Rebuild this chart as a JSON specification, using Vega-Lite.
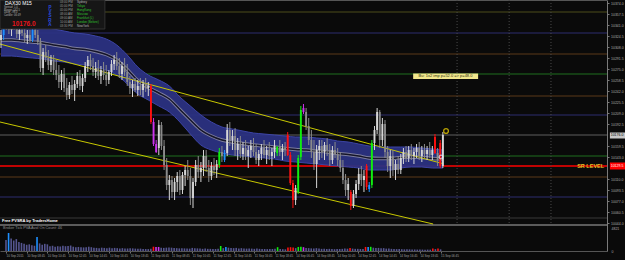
{
"$schema":"https://vega.github.io/schema/vega-lite/v6.json",
"width":607,"height":251,
"autosize":{"type":"none"},
"padding":{"left":0,"top":0,"right":18,"bottom":9},
"background":"#0a0a0a",
"config":{"view":{"stroke":null},"text":{"font":"Liberation Sans"}},
"datasets":{
"one":[{}],
"candles":[
{"i":0,"o":10318.5,"h":10333.5,"l":10306.5,"c":10326,"k":"u","v":2300},
{"i":1,"o":10326,"h":10351.5,"l":10318.5,"c":10345.5,"k":"B","v":3780},
{"i":2,"o":10345.5,"h":10356,"l":10333.5,"c":10339.5,"k":"d","v":2600},
{"i":3,"o":10339.5,"h":10348.5,"l":10327.5,"c":10333.5,"k":"d","v":2200},
{"i":4,"o":10333.5,"h":10345.5,"l":10324.5,"c":10341,"k":"u","v":2500},
{"i":5,"o":10341,"h":10351.5,"l":10333.5,"c":10336.5,"k":"d","v":1900},
{"i":6,"o":10336.5,"h":10348.5,"l":10321.5,"c":10327.5,"k":"d","v":1700},
{"i":7,"o":10327.5,"h":10339.5,"l":10318.5,"c":10333.5,"k":"u","v":1500},
{"i":8,"o":10333.5,"h":10342.5,"l":10324.5,"c":10329,"k":"d","v":1300},
{"i":9,"o":10329,"h":10336.5,"l":10315.5,"c":10321.5,"k":"d","v":1400},
{"i":10,"o":10321.5,"h":10333.5,"l":10312.5,"c":10326,"k":"u","v":1200},
{"i":11,"o":10326,"h":10333.5,"l":10315.5,"c":10318.5,"k":"d","v":1100},
{"i":12,"o":10318.5,"h":10336.5,"l":10315.5,"c":10333.5,"k":"B","v":2950},
{"i":13,"o":10333.5,"h":10341,"l":10321.5,"c":10326,"k":"d","v":1600},
{"i":14,"o":10326,"h":10333.5,"l":10311,"c":10315.5,"k":"d","v":1300},
{"i":15,"o":10315.5,"h":10321.5,"l":10270.5,"c":10276.5,"k":"d","v":1500},
{"i":16,"o":10276.5,"h":10306.5,"l":10266,"c":10300.5,"k":"u","v":1400},
{"i":17,"o":10300.5,"h":10311,"l":10285.5,"c":10291.5,"k":"d","v":1000},
{"i":18,"o":10291.5,"h":10303.5,"l":10273.5,"c":10281,"k":"d","v":1100},
{"i":19,"o":10281,"h":10296,"l":10270.5,"c":10288.5,"k":"u","v":900},
{"i":20,"o":10288.5,"h":10296,"l":10266,"c":10273.5,"k":"d","v":1000},
{"i":21,"o":10273.5,"h":10288.5,"l":10258.5,"c":10266,"k":"d","v":950},
{"i":22,"o":10266,"h":10281,"l":10246.5,"c":10255.5,"k":"d","v":1100},
{"i":23,"o":10255.5,"h":10273.5,"l":10243.5,"c":10267.5,"k":"u","v":1000},
{"i":24,"o":10267.5,"h":10276.5,"l":10240.5,"c":10246.5,"k":"d","v":1050},
{"i":25,"o":10246.5,"h":10261.5,"l":10228.5,"c":10236,"k":"d","v":1150},
{"i":26,"o":10236,"h":10255.5,"l":10230,"c":10251,"k":"u","v":900},
{"i":27,"o":10251,"h":10264.5,"l":10237.5,"c":10243.5,"k":"d","v":800},
{"i":28,"o":10243.5,"h":10258.5,"l":10227,"c":10252.5,"k":"u","v":850},
{"i":29,"o":10252.5,"h":10270.5,"l":10246.5,"c":10264.5,"k":"u","v":800},
{"i":30,"o":10264.5,"h":10273.5,"l":10243.5,"c":10249.5,"k":"d","v":750},
{"i":31,"o":10249.5,"h":10267.5,"l":10240.5,"c":10261.5,"k":"u","v":800},
{"i":32,"o":10261.5,"h":10285.5,"l":10255.5,"c":10279.5,"k":"u","v":900},
{"i":33,"o":10279.5,"h":10294.5,"l":10270.5,"c":10288.5,"k":"u","v":800},
{"i":34,"o":10288.5,"h":10297.5,"l":10273.5,"c":10279.5,"k":"d","v":700},
{"i":35,"o":10279.5,"h":10291.5,"l":10264.5,"c":10270.5,"k":"d","v":650},
{"i":36,"o":10270.5,"h":10285.5,"l":10261.5,"c":10276.5,"k":"u","v":600},
{"i":37,"o":10276.5,"h":10288.5,"l":10258.5,"c":10264.5,"k":"d","v":700},
{"i":38,"o":10264.5,"h":10279.5,"l":10252.5,"c":10273.5,"k":"u","v":650},
{"i":39,"o":10273.5,"h":10285.5,"l":10258.5,"c":10266,"k":"d","v":600},
{"i":40,"o":10266,"h":10281,"l":10249.5,"c":10258.5,"k":"d","v":700},
{"i":41,"o":10258.5,"h":10273.5,"l":10252.5,"c":10270.5,"k":"u","v":600},
{"i":42,"o":10270.5,"h":10288.5,"l":10264.5,"c":10282.5,"k":"u","v":650},
{"i":43,"o":10282.5,"h":10296,"l":10273.5,"c":10288.5,"k":"u","v":600},
{"i":44,"o":10288.5,"h":10300.5,"l":10273.5,"c":10279.5,"k":"d","v":550},
{"i":45,"o":10279.5,"h":10291.5,"l":10261.5,"c":10267.5,"k":"d","v":600},
{"i":46,"o":10267.5,"h":10285.5,"l":10258.5,"c":10279.5,"k":"u","v":550},
{"i":47,"o":10279.5,"h":10291.5,"l":10264.5,"c":10270.5,"k":"d","v":500},
{"i":48,"o":10270.5,"h":10282.5,"l":10249.5,"c":10255.5,"k":"d","v":600},
{"i":49,"o":10255.5,"h":10264.5,"l":10237.5,"c":10246.5,"k":"d","v":550},
{"i":50,"o":10246.5,"h":10258.5,"l":10233,"c":10252.5,"k":"u","v":500},
{"i":51,"o":10252.5,"h":10261.5,"l":10240.5,"c":10243.5,"k":"d","v":450},
{"i":52,"o":10243.5,"h":10258.5,"l":10234.5,"c":10249.5,"k":"u","v":500},
{"i":53,"o":10249.5,"h":10261.5,"l":10236,"c":10243.5,"k":"d","v":400},
{"i":54,"o":10243.5,"h":10258.5,"l":10233,"c":10252.5,"k":"u","v":420},
{"i":55,"o":10252.5,"h":10261.5,"l":10240.5,"c":10246.5,"k":"d","v":400},
{"i":56,"o":10246.5,"h":10255.5,"l":10234.5,"c":10249.5,"k":"u","v":450},
{"i":57,"o":10249.5,"h":10252.5,"l":10192.5,"c":10195.5,"k":"R","v":900},
{"i":58,"o":10195.5,"h":10201.5,"l":10159.5,"c":10162.5,"k":"M","v":850},
{"i":59,"o":10162.5,"h":10168.5,"l":10149,"c":10150.5,"k":"M","v":850},
{"i":60,"o":10156.5,"h":10198.5,"l":10146,"c":10191,"k":"u","v":700},
{"i":61,"o":10191,"h":10195.5,"l":10153.5,"c":10159.5,"k":"d","v":650},
{"i":62,"o":10159.5,"h":10168.5,"l":10123.5,"c":10131,"k":"d","v":700},
{"i":63,"o":10131,"h":10141.5,"l":10093.5,"c":10101,"k":"d","v":750},
{"i":64,"o":10101,"h":10116,"l":10078.5,"c":10108.5,"k":"u","v":700},
{"i":65,"o":10108.5,"h":10114.5,"l":10081.5,"c":10090.5,"k":"d","v":650},
{"i":66,"o":10090.5,"h":10111.5,"l":10078.5,"c":10105.5,"k":"u","v":600},
{"i":67,"o":10105.5,"h":10120.5,"l":10090.5,"c":10114.5,"k":"u","v":550},
{"i":68,"o":10114.5,"h":10123.5,"l":10086,"c":10093.5,"k":"d","v":600},
{"i":69,"o":10093.5,"h":10120.5,"l":10087.5,"c":10116,"k":"u","v":550},
{"i":70,"o":10116,"h":10129.5,"l":10099.5,"c":10123.5,"k":"u","v":500},
{"i":71,"o":10123.5,"h":10138.5,"l":10108.5,"c":10114.5,"k":"d","v":500},
{"i":72,"o":10114.5,"h":10126.5,"l":10071,"c":10081.5,"k":"d","v":650},
{"i":73,"o":10081.5,"h":10111.5,"l":10066.5,"c":10105.5,"k":"u","v":600},
{"i":74,"o":10105.5,"h":10138.5,"l":10099.5,"c":10131,"k":"u","v":550},
{"i":75,"o":10131,"h":10144.5,"l":10111.5,"c":10120.5,"k":"d","v":500},
{"i":76,"o":10120.5,"h":10135.5,"l":10105.5,"c":10126.5,"k":"u","v":450},
{"i":77,"o":10126.5,"h":10153.5,"l":10114.5,"c":10144.5,"k":"u","v":500},
{"i":78,"o":10144.5,"h":10153.5,"l":10120.5,"c":10126.5,"k":"d","v":450},
{"i":79,"o":10126.5,"h":10138.5,"l":10105.5,"c":10114.5,"k":"d","v":450},
{"i":80,"o":10114.5,"h":10135.5,"l":10108.5,"c":10129.5,"k":"u","v":420},
{"i":81,"o":10129.5,"h":10141.5,"l":10116,"c":10123.5,"k":"d","v":420},
{"i":82,"o":10123.5,"h":10138.5,"l":10111.5,"c":10132.5,"k":"u","v":450},
{"i":83,"o":10131,"h":10156.5,"l":10126.5,"c":10150.5,"k":"G","v":1050},
{"i":84,"o":10150.5,"h":10159.5,"l":10135.5,"c":10144.5,"k":"d","v":600},
{"i":85,"o":10138.5,"h":10153.5,"l":10135.5,"c":10149,"k":"B","v":850},
{"i":86,"o":10149,"h":10192.5,"l":10144.5,"c":10183.5,"k":"u","v":700},
{"i":87,"o":10183.5,"h":10195.5,"l":10159.5,"c":10168.5,"k":"d","v":650},
{"i":88,"o":10168.5,"h":10183.5,"l":10153.5,"c":10174.5,"k":"u","v":600},
{"i":89,"o":10174.5,"h":10186.5,"l":10144.5,"c":10153.5,"k":"d","v":650},
{"i":90,"o":10153.5,"h":10171.5,"l":10138.5,"c":10162.5,"k":"u","v":550},
{"i":91,"o":10162.5,"h":10174.5,"l":10141.5,"c":10147.5,"k":"d","v":600},
{"i":92,"o":10147.5,"h":10165.5,"l":10138.5,"c":10156.5,"k":"u","v":550},
{"i":93,"o":10156.5,"h":10168.5,"l":10138.5,"c":10144.5,"k":"d","v":500},
{"i":94,"o":10144.5,"h":10159.5,"l":10126.5,"c":10153.5,"k":"u","v":550},
{"i":95,"o":10153.5,"h":10168.5,"l":10141.5,"c":10159.5,"k":"u","v":500},
{"i":96,"o":10159.5,"h":10171.5,"l":10144.5,"c":10150.5,"k":"d","v":450},
{"i":97,"o":10150.5,"h":10162.5,"l":10132.5,"c":10138.5,"k":"d","v":500},
{"i":98,"o":10138.5,"h":10153.5,"l":10129.5,"c":10147.5,"k":"u","v":450},
{"i":99,"o":10147.5,"h":10162.5,"l":10138.5,"c":10156.5,"k":"u","v":420},
{"i":100,"o":10156.5,"h":10168.5,"l":10141.5,"c":10146,"k":"d","v":420},
{"i":101,"o":10146,"h":10159.5,"l":10132.5,"c":10153.5,"k":"u","v":400},
{"i":102,"o":10153.5,"h":10165.5,"l":10138.5,"c":10144.5,"k":"d","v":400},
{"i":103,"o":10144.5,"h":10156.5,"l":10129.5,"c":10150.5,"k":"u","v":420},
{"i":104,"o":10150.5,"h":10168.5,"l":10141.5,"c":10159.5,"k":"u","v":450},
{"i":105,"o":10149,"h":10159.5,"l":10144.5,"c":10158,"k":"G","v":800},
{"i":106,"o":10158,"h":10168.5,"l":10144.5,"c":10150.5,"k":"d","v":400},
{"i":107,"o":10150.5,"h":10162.5,"l":10138.5,"c":10156.5,"k":"u","v":380},
{"i":108,"o":10156.5,"h":10165.5,"l":10144.5,"c":10153.5,"k":"d","v":350},
{"i":109,"o":10176,"h":10180.5,"l":10144.5,"c":10146,"k":"R","v":750},
{"i":110,"o":10146,"h":10150.5,"l":10101,"c":10104,"k":"R","v":800},
{"i":111,"o":10104,"h":10108.5,"l":10066.5,"c":10078.5,"k":"R","v":750},
{"i":112,"o":10078.5,"h":10101,"l":10071,"c":10096.5,"k":"u","v":600},
{"i":113,"o":10090.5,"h":10146,"l":10087.5,"c":10141.5,"k":"G","v":850},
{"i":114,"o":10143,"h":10219.5,"l":10138.5,"c":10213.5,"k":"G","v":900},
{"i":115,"o":10216.5,"h":10222.5,"l":10207.5,"c":10210.5,"k":"M","v":800},
{"i":116,"o":10210.5,"h":10216.5,"l":10183.5,"c":10189.5,"k":"d","v":650},
{"i":117,"o":10189.5,"h":10201.5,"l":10161,"c":10168.5,"k":"d","v":600},
{"i":118,"o":10168.5,"h":10183.5,"l":10141.5,"c":10150.5,"k":"d","v":550},
{"i":119,"o":10150.5,"h":10168.5,"l":10123.5,"c":10132.5,"k":"d","v":550},
{"i":120,"o":10132.5,"h":10161,"l":10096.5,"c":10153.5,"k":"u","v":600},
{"i":121,"o":10153.5,"h":10168.5,"l":10138.5,"c":10159.5,"k":"u","v":500},
{"i":122,"o":10159.5,"h":10168.5,"l":10141.5,"c":10150.5,"k":"d","v":450},
{"i":123,"o":10150.5,"h":10165.5,"l":10138.5,"c":10161,"k":"u","v":450},
{"i":124,"o":10161,"h":10171.5,"l":10144.5,"c":10153.5,"k":"d","v":420},
{"i":125,"o":10153.5,"h":10162.5,"l":10129.5,"c":10138.5,"k":"d","v":450},
{"i":126,"o":10138.5,"h":10159.5,"l":10132.5,"c":10153.5,"k":"u","v":420},
{"i":127,"o":10153.5,"h":10165.5,"l":10141.5,"c":10147.5,"k":"d","v":380},
{"i":128,"o":10147.5,"h":10156.5,"l":10129.5,"c":10138.5,"k":"d","v":400},
{"i":129,"o":10138.5,"h":10150.5,"l":10120.5,"c":10126.5,"k":"d","v":420},
{"i":130,"o":10126.5,"h":10138.5,"l":10102.5,"c":10108.5,"k":"d","v":450},
{"i":131,"o":10108.5,"h":10117.5,"l":10084.5,"c":10093.5,"k":"d","v":500},
{"i":132,"o":10093.5,"h":10111.5,"l":10078.5,"c":10102.5,"k":"u","v":480},
{"i":133,"o":10090.5,"h":10093.5,"l":10063.5,"c":10069.5,"k":"R","v":650},
{"i":134,"o":10069.5,"h":10093.5,"l":10066.5,"c":10087.5,"k":"u","v":500},
{"i":135,"o":10087.5,"h":10108.5,"l":10081.5,"c":10102.5,"k":"u","v":450},
{"i":136,"o":10102.5,"h":10126.5,"l":10093.5,"c":10117.5,"k":"u","v":450},
{"i":137,"o":10117.5,"h":10129.5,"l":10099.5,"c":10108.5,"k":"d","v":420},
{"i":138,"o":10108.5,"h":10123.5,"l":10090.5,"c":10114.5,"k":"u","v":420},
{"i":139,"o":10129.5,"h":10132.5,"l":10093.5,"c":10098,"k":"R","v":850},
{"i":140,"o":10095,"h":10105.5,"l":10090.5,"c":10101,"k":"B","v":850},
{"i":141,"o":10101,"h":10168.5,"l":10096.5,"c":10164,"k":"G","v":880},
{"i":142,"o":10164,"h":10189.5,"l":10153.5,"c":10183.5,"k":"u","v":700},
{"i":143,"o":10183.5,"h":10216.5,"l":10177.5,"c":10210.5,"k":"u","v":650},
{"i":144,"o":10210.5,"h":10213.5,"l":10156.5,"c":10168.5,"k":"d","v":650},
{"i":145,"o":10168.5,"h":10201.5,"l":10159.5,"c":10192.5,"k":"u","v":600},
{"i":146,"o":10192.5,"h":10198.5,"l":10141.5,"c":10150.5,"k":"d","v":600},
{"i":147,"o":10150.5,"h":10159.5,"l":10120.5,"c":10129.5,"k":"d","v":500},
{"i":148,"o":10129.5,"h":10153.5,"l":10111.5,"c":10144.5,"k":"u","v":500},
{"i":149,"o":10144.5,"h":10153.5,"l":10114.5,"c":10123.5,"k":"d","v":450},
{"i":150,"o":10123.5,"h":10138.5,"l":10108.5,"c":10132.5,"k":"u","v":420},
{"i":151,"o":10132.5,"h":10144.5,"l":10117.5,"c":10123.5,"k":"d","v":400},
{"i":152,"o":10123.5,"h":10147.5,"l":10117.5,"c":10141.5,"k":"u","v":420},
{"i":153,"o":10141.5,"h":10156.5,"l":10132.5,"c":10150.5,"k":"u","v":380},
{"i":154,"o":10150.5,"h":10159.5,"l":10135.5,"c":10141.5,"k":"d","v":350},
{"i":155,"o":10141.5,"h":10159.5,"l":10135.5,"c":10153.5,"k":"u","v":380},
{"i":156,"o":10153.5,"h":10162.5,"l":10138.5,"c":10144.5,"k":"d","v":350},
{"i":157,"o":10144.5,"h":10156.5,"l":10132.5,"c":10150.5,"k":"u","v":330},
{"i":158,"o":10150.5,"h":10162.5,"l":10141.5,"c":10156.5,"k":"u","v":320},
{"i":159,"o":10156.5,"h":10165.5,"l":10138.5,"c":10144.5,"k":"d","v":300},
{"i":160,"o":10144.5,"h":10159.5,"l":10135.5,"c":10153.5,"k":"u","v":320},
{"i":161,"o":10153.5,"h":10162.5,"l":10141.5,"c":10147.5,"k":"d","v":300},
{"i":162,"o":10147.5,"h":10159.5,"l":10138.5,"c":10153.5,"k":"u","v":280},
{"i":163,"o":10153.5,"h":10165.5,"l":10141.5,"c":10146,"k":"d","v":300},
{"i":164,"o":10146,"h":10159.5,"l":10138.5,"c":10153.5,"k":"u","v":280},
{"i":165,"o":10173,"h":10177.5,"l":10147.5,"c":10149,"k":"R","v":550},
{"i":166,"o":10149,"h":10156.5,"l":10129.5,"c":10138.5,"k":"d","v":400},
{"i":167,"o":10164,"h":10168.5,"l":10126.5,"c":10129.5,"k":"R","v":500},
{"i":168,"o":10129.5,"h":10180.5,"l":10126.5,"c":10176,"k":"u","v":350}
],
"band":[
{"i":0,"bu":10342.5,"bl":10294.5,"m":10318.5},
{"i":4,"bu":10342.5,"bl":10294.5,"m":10318.5},
{"i":8,"bu":10341,"bl":10293,"m":10317},
{"i":12,"bu":10339.5,"bl":10291.5,"m":10315.5},
{"i":16,"bu":10338,"bl":10290,"m":10314},
{"i":20,"bu":10335,"bl":10287,"m":10311},
{"i":24,"bu":10332,"bl":10285.5,"m":10308.75},
{"i":28,"bu":10329,"bl":10282.5,"m":10305.75},
{"i":32,"bu":10327.5,"bl":10281,"m":10304.25},
{"i":36,"bu":10324.5,"bl":10278,"m":10301.25},
{"i":40,"bu":10320,"bl":10273.5,"m":10296.75},
{"i":44,"bu":10311,"bl":10266,"m":10288.5},
{"i":48,"bu":10296,"bl":10252.5,"m":10274.25},
{"i":52,"bu":10278,"bl":10237.5,"m":10257.75},
{"i":56,"bu":10266,"bl":10228.5,"m":10247.25},
{"i":60,"bu":10258.5,"bl":10219.5,"m":10239},
{"i":64,"bu":10249.5,"bl":10210.5,"m":10230},
{"i":68,"bu":10233,"bl":10195.5,"m":10214.25},
{"i":72,"bu":10219.5,"bl":10177.5,"m":10198.5},
{"i":76,"bu":10206,"bl":10161,"m":10183.5},
{"i":80,"bu":10195.5,"bl":10153.5,"m":10174.5},
{"i":84,"bu":10188,"bl":10149,"m":10168.5},
{"i":88,"bu":10185,"bl":10146,"m":10165.5},
{"i":92,"bu":10182,"bl":10144.5,"m":10163.25},
{"i":96,"bu":10179,"bl":10143,"m":10161},
{"i":100,"bu":10177.5,"bl":10141.5,"m":10159.5},
{"i":104,"bu":10176,"bl":10140,"m":10158},
{"i":108,"bu":10174.5,"bl":10137,"m":10155.75},
{"i":112,"bu":10173,"bl":10135.5,"m":10154.25},
{"i":116,"bu":10173,"bl":10134,"m":10153.5},
{"i":120,"bu":10171.5,"bl":10132.5,"m":10152},
{"i":124,"bu":10170,"bl":10131,"m":10150.5},
{"i":128,"bu":10167,"bl":10129.5,"m":10148.25},
{"i":132,"bu":10165.5,"bl":10128,"m":10146.75},
{"i":136,"bu":10162.5,"bl":10126.5,"m":10144.5},
{"i":140,"bu":10159.5,"bl":10123.5,"m":10141.5},
{"i":144,"bu":10158,"bl":10123.5,"m":10140.75},
{"i":148,"bu":10158,"bl":10123.5,"m":10140.75},
{"i":152,"bu":10158,"bl":10126.5,"m":10142.25},
{"i":156,"bu":10158,"bl":10128,"m":10143},
{"i":160,"bu":10156.5,"bl":10128,"m":10142.25},
{"i":164,"bu":10155,"bl":10126.5,"m":10140.75},
{"i":168,"bu":10153.5,"bl":10126.5,"m":10140}
],
"trend":[
{"line":"a","i":-0.38,"p":10312.5},{"line":"a","i":168,"p":10133},
{"line":"b","i":-0.38,"p":10195.5},{"line":"b","i":164.3,"p":10042.5}
],
"levels":[
{"p":10360.5,"t":"Y"},{"p":10329,"t":"W"},{"p":10297.5,"t":"D"},{"p":10267.5,"t":"M"},
{"p":10234.5,"t":"D"},{"p":10206,"t":"W"},{"p":10176,"t":"Bid"},{"p":10144.5,"t":"M"},
{"p":10113,"t":"D"},{"p":10083,"t":"W"},{"p":10051.5,"t":"Q"}
],
"seps":[{"i":173.4},{"i":193.2},{"i":209.1}]
},
"layer":[
{"data":{"name":"levels"},"mark":{"type":"rule","strokeWidth":1},
 "encoding":{"y":{"field":"p","type":"quantitative","scale":{"domain":[10002,10378.5],"nice":false,"zero":false},
   "axis":{"orient":"right","values":[10374,10357.5,10341,10324.5,10308,10291.5,10275,10258.5,10242,10225.5,10209,10192.5,10159.5,10143,10110,10093.5,10077,10060.5,10044],
   "format":".1f","title":null,"grid":false,"labelFont":"Liberation Sans","labelFontSize":3.5,"labelColor":"#a8a8a8","tickSize":2,"tickColor":"#7a7a7a","domainColor":"#7a7a7a","labelPadding":1.5}},
  "color":{"field":"t","type":"nominal","legend":null,"scale":{"domain":["Y","W","D","M","Bid","Q"],"range":["#4d4d1a","#2c2c6e","#5a3818","#1f6e1f","#5e5e5e","#383838"]}}}},
{"data":{"name":"one"},"mark":{"type":"rule","color":"#ff0000","strokeWidth":1.3},
 "encoding":{"y":{"datum":10129.5,"type":"quantitative","scale":{"domain":[10002,10378.5],"nice":false,"zero":false},"axis":null}}},
{"data":{"name":"one"},"mark":{"type":"rule","color":"#5a5a5a","strokeWidth":1},
 "encoding":{"y":{"datum":10377.8,"type":"quantitative","scale":{"domain":[10002,10378.5],"nice":false,"zero":false},"axis":null}}},
{"data":{"name":"one"},"mark":{"type":"rule","color":"#777777","strokeWidth":1.6},
 "encoding":{"y":{"datum":10041,"type":"quantitative","scale":{"domain":[10002,10378.5],"nice":false,"zero":false},"axis":null}}},
{"data":{"name":"seps"},"mark":{"type":"rule","color":"#4a4a4a","strokeWidth":1,"strokeDash":[1,2]},
 "encoding":{"x":{"field":"i","type":"quantitative","scale":{"domain":[-0.38,230.4],"nice":false,"zero":false},"axis":null},
  "y":{"datum":10378.5,"type":"quantitative","scale":{"domain":[10002,10378.5],"nice":false,"zero":false},"axis":null},"y2":{"datum":10041}}},
{"data":{"name":"band"},"mark":{"type":"area","color":"#2b3182","interpolate":"monotone","opacity":0.95},
 "encoding":{"x":{"field":"i","type":"quantitative","scale":{"domain":[-0.38,230.4],"nice":false,"zero":false},"axis":null},
  "y":{"field":"bu","type":"quantitative","scale":{"domain":[10002,10378.5],"nice":false,"zero":false},"axis":null},"y2":{"field":"bl"}}},
{"data":{"name":"band"},"mark":{"type":"line","color":"#3c44a6","strokeWidth":1,"interpolate":"monotone"},
 "encoding":{"x":{"field":"i","type":"quantitative","scale":{"domain":[-0.38,230.4],"nice":false,"zero":false},"axis":null},
  "y":{"field":"bu","type":"quantitative","scale":{"domain":[10002,10378.5],"nice":false,"zero":false},"axis":null}}},
{"data":{"name":"band"},"mark":{"type":"line","color":"#3c44a6","strokeWidth":1,"interpolate":"monotone"},
 "encoding":{"x":{"field":"i","type":"quantitative","scale":{"domain":[-0.38,230.4],"nice":false,"zero":false},"axis":null},
  "y":{"field":"bl","type":"quantitative","scale":{"domain":[10002,10378.5],"nice":false,"zero":false},"axis":null}}},
{"data":{"name":"band"},"mark":{"type":"line","color":"#7c7c9c","strokeWidth":3.4,"interpolate":"monotone"},
 "encoding":{"x":{"field":"i","type":"quantitative","scale":{"domain":[-0.38,230.4],"nice":false,"zero":false},"axis":null},
  "y":{"field":"m","type":"quantitative","scale":{"domain":[10002,10378.5],"nice":false,"zero":false},"axis":null}}},
{"data":{"name":"band"},"mark":{"type":"line","color":"#15152a","strokeWidth":1.5,"interpolate":"monotone"},
 "encoding":{"x":{"field":"i","type":"quantitative","scale":{"domain":[-0.38,230.4],"nice":false,"zero":false},"axis":null},
  "y":{"field":"m","type":"quantitative","scale":{"domain":[10002,10378.5],"nice":false,"zero":false},"axis":null}}},
{"data":{"name":"trend"},"mark":{"type":"line","color":"#c8c800","strokeWidth":1},
 "encoding":{"x":{"field":"i","type":"quantitative","scale":{"domain":[-0.38,230.4],"nice":false,"zero":false},"axis":null},
  "y":{"field":"p","type":"quantitative","scale":{"domain":[10002,10378.5],"nice":false,"zero":false},"axis":null},"detail":{"field":"line"}}},
{"data":{"name":"candles"},"mark":{"type":"rule","strokeWidth":1},
 "encoding":{"x":{"field":"i","type":"quantitative","scale":{"domain":[-0.38,230.4],"nice":false,"zero":false},"axis":null},
  "y":{"field":"l","type":"quantitative","scale":{"domain":[10002,10378.5],"nice":false,"zero":false},"axis":null},"y2":{"field":"h"},
  "color":{"field":"k","type":"nominal","legend":null,"scale":{"domain":["u","d","R","G","B","M"],"range":["#d6d6d6","#8a8a8a","#ff1010","#10ee10","#1e90ff","#cc33ee"]}}}},
{"data":{"name":"candles"},"mark":{"type":"rule","strokeWidth":1.9,"strokeCap":"butt"},
 "encoding":{"x":{"field":"i","type":"quantitative","scale":{"domain":[-0.38,230.4],"nice":false,"zero":false},"axis":null},
  "y":{"field":"o","type":"quantitative","scale":{"domain":[10002,10378.5],"nice":false,"zero":false},"axis":null},"y2":{"field":"c"},
  "color":{"field":"k","type":"nominal","legend":null,"scale":{"domain":["u","d","R","G","B","M"],"range":["#d6d6d6","#8a8a8a","#ff1010","#10ee10","#1e90ff","#cc33ee"]}}}},
{"data":{"name":"candles"},"mark":{"type":"bar","size":1.6},
 "encoding":{"x":{"field":"i","type":"quantitative","scale":{"domain":[-0.38,230.4],"nice":false,"zero":false},
   "axis":{"orient":"bottom","values":[0,8,16,24,32,40,48,56,64,72,80,88,96,104,112,120,128,136,144,152,160,168],
   "labelExpr":"['10 Sep 2015','10 Sep 08:45','10 Sep 10:45','10 Sep 12:45','10 Sep 14:45','10 Sep 16:45','10 Sep 18:45','11 Sep 06:45','11 Sep 08:45','11 Sep 10:45','11 Sep 12:45','11 Sep 14:45','11 Sep 16:45','11 Sep 18:45','14 Sep 06:45','14 Sep 08:45','14 Sep 10:45','14 Sep 12:45','14 Sep 14:45','14 Sep 16:45','14 Sep 18:45','15 Sep 06:45'][round(datum.value/8)]",
   "labelAlign":"left","labelFont":"Liberation Sans","labelFontSize":3,"labelColor":"#a0a0a0","tickSize":2,"tickColor":"#707070","domainColor":"#555555","labelPadding":1.5,"title":null,"grid":false,"labelOverlap":false}},
  "y":{"field":"v","type":"quantitative","scale":{"domain":[0,52612],"nice":false,"zero":true},
   "axis":{"orient":"right","values":[0,4821],"format":"d","title":null,"grid":false,"domain":false,"ticks":false,"labelPadding":4,"labelFont":"Liberation Sans","labelFontSize":3.5,"labelColor":"#a8a8a8"}},
  "color":{"field":"k","type":"nominal","legend":null,"scale":{"domain":["u","d","R","G","B","M"],"range":["#55558f","#55558f","#ff1010","#10ee10","#1e90ff","#cc33ee"]}}}},
{"data":{"name":"one"},"mark":{"type":"point","shape":"circle","filled":false,"color":"#ffe000","strokeWidth":1.4,"size":22},
 "encoding":{"x":{"datum":169.2,"type":"quantitative","scale":{"domain":[-0.38,230.4],"nice":false,"zero":false},"axis":null},"y":{"datum":10182,"type":"quantitative","scale":{"domain":[10002,10378.5],"nice":false,"zero":false},"axis":null}}},
{"data":{"name":"one"},"mark":{"type":"point","shape":"circle","filled":false,"color":"#e8f4ff","strokeWidth":1.2,"size":14},
 "encoding":{"x":{"datum":167.3,"type":"quantitative","scale":{"domain":[-0.38,230.4],"nice":false,"zero":false},"axis":null},"y":{"datum":10143,"type":"quantitative","scale":{"domain":[10002,10378.5],"nice":false,"zero":false},"axis":null}}},
{"data":{"name":"one"},"mark":{"type":"rect","color":"#f0e68c"},
 "encoding":{"x":{"datum":156.7,"type":"quantitative","scale":{"domain":[-0.38,230.4],"nice":false,"zero":false},"axis":null},"x2":{"datum":181.4},"y":{"datum":10268.25,"type":"quantitative","scale":{"domain":[10002,10378.5],"nice":false,"zero":false},"axis":null},"y2":{"datum":10260}}},
{"data":{"name":"one"},"mark":{"type":"text","text":"Bu: 1x2 imp p=52.0 => p=48.0","fontSize":4,"color":"#303010","align":"center","baseline":"middle"},
 "encoding":{"x":{"datum":169,"type":"quantitative","scale":{"domain":[-0.38,230.4],"nice":false,"zero":false},"axis":null},"y":{"datum":10264,"type":"quantitative","scale":{"domain":[10002,10378.5],"nice":false,"zero":false},"axis":null}}},
{"data":{"name":"one"},"mark":{"type":"text","text":"SR LEVEL","fontSize":5.5,"fontWeight":"bold","color":"#e6c028","align":"right","baseline":"middle"},
 "encoding":{"x":{"datum":229.3,"type":"quantitative","scale":{"domain":[-0.38,230.4],"nice":false,"zero":false},"axis":null},"y":{"datum":10129.5,"type":"quantitative","scale":{"domain":[10002,10378.5],"nice":false,"zero":false},"axis":null}}},
{"data":{"name":"one"},"mark":{"type":"text","text":"Free PVSRA by TradersHome","fontSize":4,"fontWeight":"bold","color":"#ffffff","align":"left","baseline":"middle"},
 "encoding":{"x":{"datum":0.4,"type":"quantitative","scale":{"domain":[-0.38,230.4],"nice":false,"zero":false},"axis":null},"y":{"datum":10047,"type":"quantitative","scale":{"domain":[10002,10378.5],"nice":false,"zero":false},"axis":null}}},
{"data":{"name":"one"},"mark":{"type":"text","text":"Broker Tick PVA    Avol On    Count: 46","fontSize":3.8,"color":"#909090","align":"left","baseline":"middle"},
 "encoding":{"x":{"datum":0.8,"type":"quantitative","scale":{"domain":[-0.38,230.4],"nice":false,"zero":false},"axis":null},"y":{"datum":10036,"type":"quantitative","scale":{"domain":[10002,10378.5],"nice":false,"zero":false},"axis":null}}},
{"data":{"name":"one"},"mark":{"type":"rect","color":"#c8c8c8"},
 "encoding":{"x":{"datum":231.5,"type":"quantitative","scale":{"domain":[-0.38,230.4],"nice":false,"zero":false},"axis":null},"x2":{"datum":237.5},"y":{"datum":10179.75,"type":"quantitative","scale":{"domain":[10002,10378.5],"nice":false,"zero":false},"axis":null},"y2":{"datum":10170.75}}},
{"data":{"name":"one"},"mark":{"type":"text","text":"10176.0","fontSize":3.5,"color":"#000000","align":"left","baseline":"middle"},
 "encoding":{"x":{"datum":231.8,"type":"quantitative","scale":{"domain":[-0.38,230.4],"nice":false,"zero":false},"axis":null},"y":{"datum":10175.5,"type":"quantitative","scale":{"domain":[10002,10378.5],"nice":false,"zero":false},"axis":null}}},
{"data":{"name":"one"},"mark":{"type":"rect","color":"#ff0000"},
 "encoding":{"x":{"datum":231.5,"type":"quantitative","scale":{"domain":[-0.38,230.4],"nice":false,"zero":false},"axis":null},"x2":{"datum":237.5},"y":{"datum":10134.75,"type":"quantitative","scale":{"domain":[10002,10378.5],"nice":false,"zero":false},"axis":null},"y2":{"datum":10124.25}}},
{"data":{"name":"one"},"mark":{"type":"text","text":"10129.5","fontSize":3.5,"color":"#ffffff","align":"left","baseline":"middle"},
 "encoding":{"x":{"datum":231.8,"type":"quantitative","scale":{"domain":[-0.38,230.4],"nice":false,"zero":false},"axis":null},"y":{"datum":10129.5,"type":"quantitative","scale":{"domain":[10002,10378.5],"nice":false,"zero":false},"axis":null}}},
{"data":{"name":"one"},"mark":{"type":"rect","color":"#161616","stroke":"#3a3a3a","strokeWidth":0.8},
 "encoding":{"x":{"datum":-0.38,"type":"quantitative","scale":{"domain":[-0.38,230.4],"nice":false,"zero":false},"axis":null},"x2":{"datum":39.5},"y":{"datum":10378.5,"type":"quantitative","scale":{"domain":[10002,10378.5],"nice":false,"zero":false},"axis":null},"y2":{"datum":10335}}},
{"data":{"name":"one"},"mark":{"type":"text","text":"DAX30  M15","fontSize":5,"color":"#ffffff","align":"left","baseline":"middle"},
 "encoding":{"x":{"datum":1.5,"type":"quantitative","scale":{"domain":[-0.38,230.4],"nice":false,"zero":false},"axis":null},"y":{"datum":10373.5,"type":"quantitative","scale":{"domain":[10002,10378.5],"nice":false,"zero":false},"axis":null}}},
{"data":{"name":"one"},"mark":{"type":"text","text":["Spread:      1.0","Range:    142.5","Daily:     -98.0","Candle:  06:49"],"fontSize":2.7,"lineHeight":2.7,"color":"#b0b0b0","align":"left","baseline":"top"},
 "encoding":{"x":{"datum":1.1,"type":"quantitative","scale":{"domain":[-0.38,230.4],"nice":false,"zero":false},"axis":null},"y":{"datum":10369.5,"type":"quantitative","scale":{"domain":[10002,10378.5],"nice":false,"zero":false},"axis":null}}},
{"data":{"name":"one"},"mark":{"type":"text","text":"10176.0","fontSize":6.5,"fontWeight":"bold","color":"#e8141c","align":"left","baseline":"middle"},
 "encoding":{"x":{"datum":4.2,"type":"quantitative","scale":{"domain":[-0.38,230.4],"nice":false,"zero":false},"axis":null},"y":{"datum":10342.5,"type":"quantitative","scale":{"domain":[10002,10378.5],"nice":false,"zero":false},"axis":null}}},
{"data":{"name":"one"},"mark":{"type":"text","text":["P","V","S","R","A"],"fontSize":4.5,"lineHeight":4.2,"fontWeight":"bold","color":"#2d4fe0","align":"center","baseline":"top"},
 "encoding":{"x":{"datum":18.6,"type":"quantitative","scale":{"domain":[-0.38,230.4],"nice":false,"zero":false},"axis":null},"y":{"datum":10371,"type":"quantitative","scale":{"domain":[10002,10378.5],"nice":false,"zero":false},"axis":null}}},
{"data":{"name":"one"},"mark":{"type":"text","text":["03:00 PM","05:00 PM","05:00 PM","08:00 AM","09:00 AM","10:00 AM","03:30 PM"],"fontSize":3,"lineHeight":4,"color":"#9a9a9a","align":"left","baseline":"top"},
 "encoding":{"x":{"datum":22.4,"type":"quantitative","scale":{"domain":[-0.38,230.4],"nice":false,"zero":false},"axis":null},"y":{"datum":10376.7,"type":"quantitative","scale":{"domain":[10002,10378.5],"nice":false,"zero":false},"axis":null}}},
{"data":{"name":"one"},"mark":{"type":"text","text":"Sydney","fontSize":3,"color":"#b8b8b8","align":"left","baseline":"top"},
 "encoding":{"x":{"datum":28.9,"type":"quantitative","scale":{"domain":[-0.38,230.4],"nice":false,"zero":false},"axis":null},"y":{"datum":10376.7,"type":"quantitative","scale":{"domain":[10002,10378.5],"nice":false,"zero":false},"axis":null}}},
{"data":{"name":"one"},"mark":{"type":"text","text":["Tokyo","HongKong","Moscow","Frankfurt (L)","London (Before)"],"fontSize":3,"lineHeight":4,"color":"#30c030","align":"left","baseline":"top"},
 "encoding":{"x":{"datum":28.9,"type":"quantitative","scale":{"domain":[-0.38,230.4],"nice":false,"zero":false},"axis":null},"y":{"datum":10370.7,"type":"quantitative","scale":{"domain":[10002,10378.5],"nice":false,"zero":false},"axis":null}}},
{"data":{"name":"one"},"mark":{"type":"text","text":"NewYork","fontSize":3,"color":"#b8b8b8","align":"left","baseline":"top"},
 "encoding":{"x":{"datum":28.9,"type":"quantitative","scale":{"domain":[-0.38,230.4],"nice":false,"zero":false},"axis":null},"y":{"datum":10340.7,"type":"quantitative","scale":{"domain":[10002,10378.5],"nice":false,"zero":false},"axis":null}}}
],
"resolve":{"scale":{"x":"independent","y":"independent","color":"independent"}}
}
